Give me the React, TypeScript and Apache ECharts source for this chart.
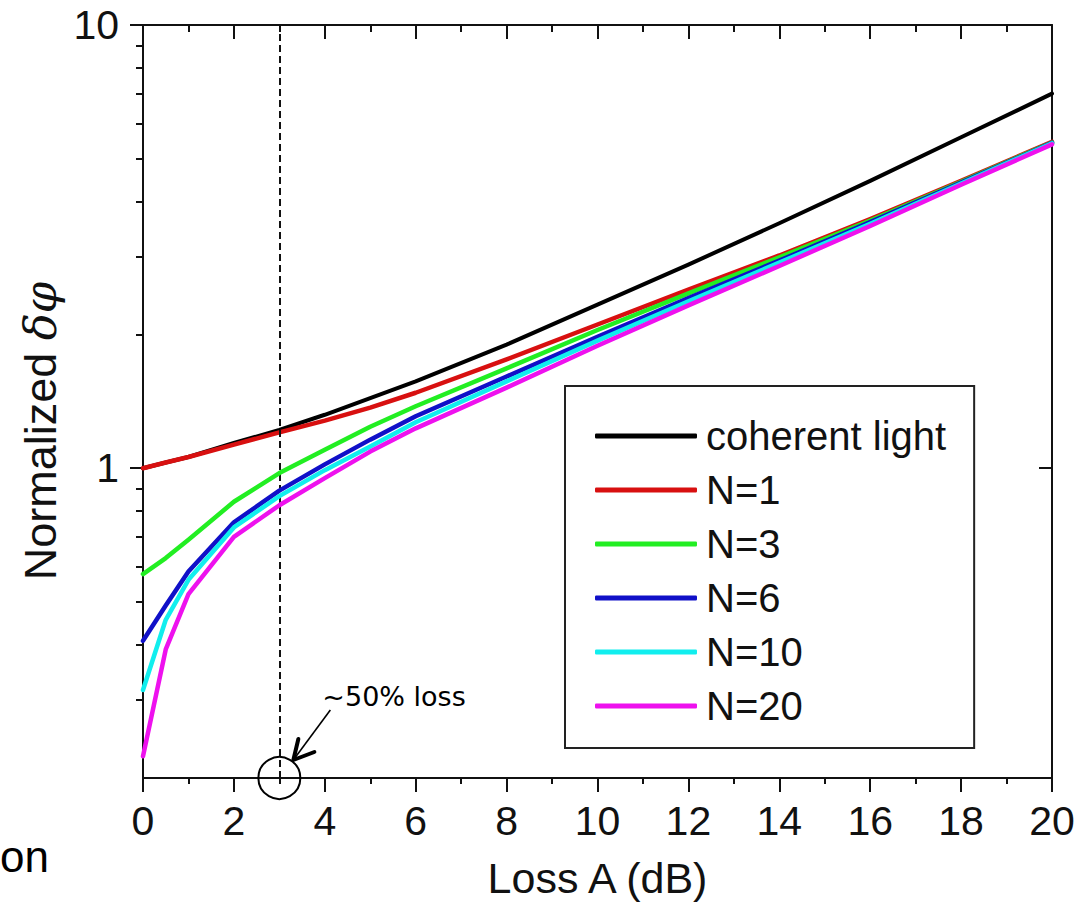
import React, { useEffect, useRef } from 'react';
import * as echarts from 'echarts';

// Loss A (dB) sample positions
const lossDb = [0, 0.5, 1, 2, 3, 4, 5, 6, 8, 10, 12, 14, 16, 18, 20];
// Normalized delta-phi for each source
const coherentLight = [1.0, 1.03, 1.06, 1.14, 1.22, 1.32, 1.44, 1.57, 1.9, 2.34, 2.88, 3.57, 4.45, 5.58, 7.0];
const nEq1 = [1.0, 1.03, 1.06, 1.13, 1.205, 1.28, 1.37, 1.48, 1.76, 2.11, 2.53, 3.02, 3.65, 4.45, 5.45];
const nEq3 = [0.577, 0.627, 0.69, 0.84, 0.975, 1.1, 1.24, 1.38, 1.68, 2.05, 2.48, 2.99, 3.62, 4.43, 5.43];
const nEq6 = [0.408, 0.49, 0.585, 0.755, 0.89, 1.02, 1.16, 1.31, 1.61, 1.98, 2.42, 2.94, 3.59, 4.41, 5.42];
const nEq10 = [0.316, 0.455, 0.56, 0.735, 0.865, 0.99, 1.12, 1.27, 1.57, 1.94, 2.38, 2.91, 3.56, 4.39, 5.41];
const nEq20 = [0.224, 0.39, 0.52, 0.7, 0.825, 0.95, 1.09, 1.23, 1.52, 1.89, 2.33, 2.86, 3.52, 4.36, 5.38];

const seriesNames = ['coherent light', 'N=1', 'N=3', 'N=6', 'N=10', 'N=20'];
const seriesValues = [coherentLight, nEq1, nEq3, nEq6, nEq10, nEq20];
const seriesColors = ['#000000', '#d81010', '#22ee22', '#1010c8', '#11eeee', '#ee11ee'];

const xMin = 0;
const xMax = 20;
const xInterval = 2;
const yMin = 0.2;
const yMax = 10;
const yMajorTicks = [1, 10];
const yMinorTicks = [0.3, 0.4, 0.5, 0.6, 0.7, 0.8, 0.9, 2, 3, 4, 5, 6, 7, 8, 9];
const markerLoss = 3;
const annotationText = '~50% loss';

const FONT = "'Liberation Sans', Arial, sans-serif";
const INK = '#111111';

function yAxisBase(position: 'left' | 'right') {
  return {
    type: 'log',
    logBase: 10,
    min: yMin,
    max: yMax,
    position,
    gridIndex: 0,
    splitLine: { show: false },
    minorTick: { show: false },
    minorSplitLine: { show: false },
  };
}

export default function App() {
  const ref = useRef<HTMLDivElement>(null);

  useEffect(() => {
    if (!ref.current) return;
    const chart = echarts.init(ref.current, null, { renderer: 'svg' });

    const series: any[] = seriesNames.map((name, si) => ({
      name,
      type: 'line',
      xAxisIndex: 0,
      yAxisIndex: 0,
      data: lossDb.map((x, i) => [x, seriesValues[si][i]]),
      showSymbol: false,
      symbol: 'none',
      smooth: false,
      lineStyle: { color: seriesColors[si], width: si === 0 ? 4 : 4.5, cap: 'round', join: 'round' },
      itemStyle: { color: seriesColors[si] },
      z: 3 + si,
      ...(si === 0
        ? {
            markLine: {
              silent: true,
              symbol: 'none',
              label: { show: false },
              lineStyle: { color: INK, type: [7, 4], width: 2 },
              data: [{ xAxis: markerLoss }],
            },
          }
        : {}),
    }));

    const option: any = {
      animation: false,
      backgroundColor: '#ffffff',
      grid: { left: 143, right: 33, top: 25, bottom: 124, containLabel: false },
      xAxis: [
        {
          type: 'value',
          position: 'bottom',
          min: xMin,
          max: xMax,
          interval: xInterval,
          name: 'Loss A (dB)',
          nameLocation: 'middle',
          nameGap: 78,
          nameTextStyle: { fontSize: 43, color: INK, fontFamily: FONT },
          axisLine: { show: true, onZero: false, lineStyle: { color: INK, width: 2 } },
          axisTick: { show: true, inside: false, length: 14, lineStyle: { color: INK, width: 2 } },
          minorTick: { show: true, splitNumber: 2, length: 6, lineStyle: { color: INK, width: 2 } },
          axisLabel: { show: true, fontSize: 41, margin: 22, color: INK, fontFamily: FONT },
          splitLine: { show: false },
        },
        {
          type: 'value',
          position: 'top',
          min: xMin,
          max: xMax,
          interval: xInterval,
          axisLine: { show: true, onZero: false, lineStyle: { color: INK, width: 2 } },
          axisTick: { show: true, inside: true, length: 14, lineStyle: { color: INK, width: 2 } },
          minorTick: { show: true, splitNumber: 2, length: 7, lineStyle: { color: INK, width: 2 } },
          axisLabel: { show: false },
          splitLine: { show: false },
        },
      ],
      yAxis: [
        {
          ...yAxisBase('left'),
          axisLine: { show: true, onZero: false, lineStyle: { color: INK, width: 2 } },
          axisTick: { show: true, inside: false, length: 13, customValues: yMajorTicks, lineStyle: { color: INK, width: 2 } },
          axisLabel: {
            show: true,
            customValues: yMajorTicks,
            fontSize: 41,
            margin: 24,
            color: INK,
            fontFamily: FONT,
            formatter: (v: number) => String(v),
          },
        },
        {
          ...yAxisBase('left'),
          axisLine: { show: false },
          axisTick: { show: true, inside: false, length: 7, customValues: yMinorTicks, lineStyle: { color: INK, width: 2 } },
          axisLabel: { show: false },
        },
        {
          ...yAxisBase('right'),
          axisLine: { show: true, onZero: false, lineStyle: { color: INK, width: 2 } },
          axisTick: { show: true, inside: true, length: 13, customValues: yMajorTicks, lineStyle: { color: INK, width: 2 } },
          axisLabel: { show: false },
        },
        {
          ...yAxisBase('right'),
          axisLine: { show: false },
          axisTick: { show: true, inside: true, length: 7, customValues: yMinorTicks, lineStyle: { color: INK, width: 2 } },
          axisLabel: { show: false },
        },
      ],
      legend: {
        data: seriesNames,
        orient: 'vertical',
        left: 565,
        top: 386,
        padding: [30, 28, 22, 30],
        itemWidth: 102,
        itemHeight: 5,
        itemGap: 14,
        icon: 'roundRect',
        borderColor: '#222222',
        borderWidth: 2,
        borderRadius: 0,
        backgroundColor: '#ffffff',
        selectedMode: false,
        textStyle: { fontSize: 40, color: INK, fontFamily: FONT, padding: [0, 0, 0, 4] },
      },
      series,
    };

    chart.setOption(option);

    const p = chart.convertToPixel({ xAxisIndex: 0, yAxisIndex: 0 }, [markerLoss, yMin]) as number[];
    const cx = p[0];
    const cy = p[1];
    const tip = [cx + 14, cy - 18];

    chart.setOption({
      graphic: [
        {
          type: 'text',
          x: 40,
          y: 431,
          rotation: Math.PI / 2,
          style: {
            text: '{a|Normalized }{b|δφ}',
            align: 'center',
            verticalAlign: 'middle',
            fill: INK,
            rich: {
              a: { fontSize: 45, fontFamily: FONT, fill: INK },
              b: { fontSize: 45, fontFamily: "'DejaVu Serif', serif", fontStyle: 'italic', fill: INK },
            },
          },
        },
        {
          type: 'text',
          x: 0,
          y: 856,
          style: { text: 'on', align: 'left', verticalAlign: 'middle', fontSize: 44, fontFamily: FONT, fill: '#000' },
        },
        {
          type: 'circle',
          shape: { cx, cy, r: 21 },
          style: { fill: 'none', stroke: '#000', lineWidth: 2 },
          z: 100,
        },
        {
          type: 'line',
          shape: { x1: cx + 51, y1: cy - 68, x2: tip[0], y2: tip[1] },
          style: { stroke: '#000', lineWidth: 1.6 },
          z: 100,
        },
        {
          type: 'polyline',
          shape: { points: [[tip[0] + 21, tip[1] - 8], [tip[0], tip[1]], [tip[0] + 5, tip[1] - 21]] },
          style: { stroke: '#000', lineWidth: 4, fill: 'none', lineJoin: 'round', lineCap: 'round' },
          z: 100,
        },
        {
          type: 'text',
          x: cx + 43,
          y: cy - 82,
          style: {
            text: annotationText,
            align: 'left',
            verticalAlign: 'middle',
            fontSize: 27,
            fontFamily: "'DejaVu Sans', sans-serif",
            fill: '#000',
          },
          z: 100,
        },
      ],
    });

    return () => chart.dispose();
  }, []);

  return (
    <div
      ref={ref}
      style={{ position: 'absolute', left: 0, top: 0, width: 1085, height: 904, background: '#fff' }}
    />
  );
}
